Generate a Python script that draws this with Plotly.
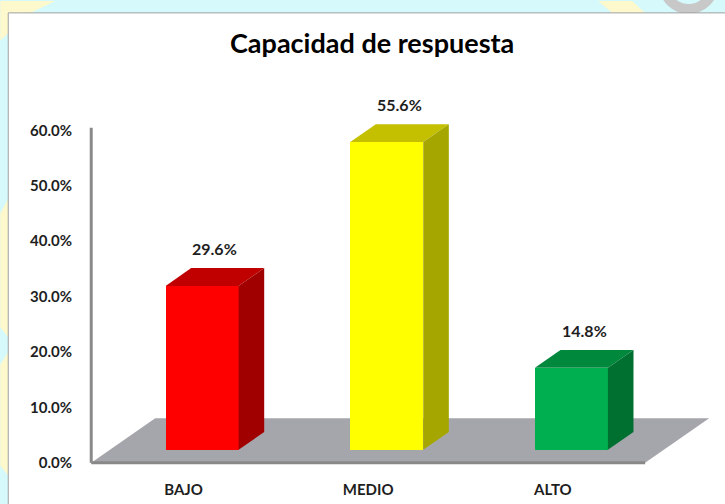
import plotly.graph_objects as go

# ---------------- data ----------------
categories = ["BAJO", "MEDIO", "ALTO"]
values = [29.6, 55.6, 14.8]
value_labels = ["29.6%", "55.6%", "14.8%"]
front_colors = ["#ff0000", "#ffff00", "#00b050"]
top_colors = ["#c00000", "#c4c000", "#00883c"]
side_colors = ["#a00000", "#a6a600", "#007030"]
y_ticks = [0, 10, 20, 30, 40, 50, 60]
y_tick_labels = ["0.0%", "10.0%", "20.0%", "30.0%", "40.0%", "50.0%", "60.0%"]
title_text = "Capacidad de respuesta"

# ---------------- geometry / style ----------------
W, H = 725, 504
PX_X = 184.67          # pixels per category unit
PX_Y = 5.6             # pixels per percent
X_LO, X_HI = -0.55, 2.9
Y_LO, Y_HI = -0.6, 67.5
AXIS_X_PX = 91.0       # pixel where x=-0.5
ZERO_Y_PX = 467.0      # pixel where y=0
L = AXIS_X_PX - (-0.5 - X_LO) * PX_X
PW = (X_HI - X_LO) * PX_X
R = W - L - PW
T = ZERO_Y_PX - Y_HI * PX_Y
B = H - ZERO_Y_PX - (0 - Y_LO) * PX_Y
PH = H - T - B

DEPTH_X = 64 / PX_X    # floor depth vector (x units)
DEPTH_Y = 45 / PX_Y    # floor depth vector (percent units)
F0, F1 = 0.29, 0.69    # bar front / back position within floor depth
BAR_W = 73 / PX_X
FONT = "Lato"
TXT = "#1e1e1e"


def px(xp):
    return (xp - L) / PW


def py(yp):
    return (H - B - yp) / PH


fig = go.Figure()

# front faces of bars
centers = [i + F0 * DEPTH_X for i in range(len(categories))]
base = F0 * DEPTH_Y
fig.add_trace(go.Bar(
    x=centers, y=values, base=[base] * len(values), width=BAR_W,
    marker=dict(color=front_colors, line=dict(width=0)),
    hoverinfo="skip", showlegend=False))

ddx = (F1 - F0) * DEPTH_X
ddy = (F1 - F0) * DEPTH_Y
annotations = []
for i, v in enumerate(values):
    xl = centers[i] - BAR_W / 2
    xr = centers[i] + BAR_W / 2
    yb = base
    yt = base + v
    # top face
    fig.add_trace(go.Scatter(
        x=[xl, xr, xr + ddx, xl + ddx, xl], y=[yt, yt, yt + ddy, yt + ddy, yt],
        mode="lines", fill="toself", fillcolor=top_colors[i], line=dict(width=0),
        hoverinfo="skip", showlegend=False))
    # side face
    fig.add_trace(go.Scatter(
        x=[xr, xr + ddx, xr + ddx, xr, xr], y=[yb, yb + ddy, yt + ddy, yt, yb],
        mode="lines", fill="toself", fillcolor=side_colors[i], line=dict(width=0),
        hoverinfo="skip", showlegend=False))
    annotations.append(dict(
        x=centers[i] + ddx / 2, y=yt + ddy, xref="x", yref="y",
        text=value_labels[i], showarrow=False, yanchor="bottom", yshift=8,
        font=dict(family=FONT, size=16, color=TXT, weight="bold")))

annotations.append(dict(
    x=px(372), y=py(42), xref="paper", yref="paper", text=title_text,
    showarrow=False, xanchor="center", yanchor="middle",
    font=dict(family=FONT, size=27, color="#000000", weight="bold")))

shapes = []
# background decorations (outside the chart area)
yellow = "#fdf9cc"
for pts in [
    [(0, 0), (55, 0), (30, 12), (0, 40)],
    [(0, 215), (8, 200), (8, 340), (0, 330)],
    [(0, 368), (8, 355), (8, 480), (0, 470)],
    [(598, 0), (632, 0), (645, 12), (612, 12)],
]:
    path = "M " + " L ".join(f"{px(a)},{py(b)}" for a, b in pts) + " Z"
    shapes.append(dict(type="path", xref="paper", yref="paper", path=path,
                       fillcolor=yellow, line=dict(width=0), layer="below"))
shapes.append(dict(type="circle", xref="paper", yref="paper",
                   x0=px(664), x1=px(713), y0=py(8), y1=py(-40),
                   line=dict(color="#c8c8c8", width=10), fillcolor="rgba(0,0,0,0)",
                   layer="below"))
# white chart area with border
shapes.append(dict(type="rect", xref="paper", yref="paper",
                   x0=px(8), x1=px(740), y0=py(12), y1=py(520),
                   fillcolor="#ffffff", line=dict(color="#a0a0a0", width=1),
                   layer="below"))
# floor
fx = [-0.5, 2.5, 2.5 + DEPTH_X, -0.5 + DEPTH_X]
fy = [0, 0, DEPTH_Y, DEPTH_Y]
floor_path = "M " + " L ".join(f"{a},{b}" for a, b in zip(fx, fy)) + " Z"
shapes.append(dict(type="path", xref="x", yref="y", path=floor_path,
                   fillcolor="#a5a6ab", line=dict(width=0), layer="below"))
# floor front edge and vertical axis line
shapes.append(dict(type="line", xref="x", yref="y", x0=-0.5, x1=2.5, y0=0, y1=0,
                   line=dict(color="#888888", width=3), layer="below"))
shapes.append(dict(type="line", xref="x", yref="y", x0=-0.5, x1=-0.5,
                   y0=0, y1=y_ticks[-1] + 0.5,
                   line=dict(color="#8a8a8a", width=3), layer="below"))

fig.update_layout(
    width=W, height=H,
    margin=dict(l=L, r=R, t=T, b=B, pad=0),
    paper_bgcolor="#d6fafc", plot_bgcolor="rgba(0,0,0,0)",
    showlegend=False, bargap=0,
    shapes=shapes, annotations=annotations,
    xaxis=dict(range=[X_LO, X_HI], tickvals=[0, 1, 2], ticktext=categories,
               showgrid=False, zeroline=False, showline=False,
               ticks="outside", ticklen=10, tickcolor="rgba(0,0,0,0)",
               tickfont=dict(family=FONT, size=15, color=TXT, weight="bold"),
               fixedrange=True),
    yaxis=dict(range=[Y_LO, Y_HI], tickvals=y_ticks, ticktext=y_tick_labels,
               showgrid=False, zeroline=False, showline=False,
               ticks="outside", ticklen=6, tickcolor="rgba(0,0,0,0)",
               tickfont=dict(family=FONT, size=15, color=TXT, weight="bold"),
               fixedrange=True),
)

fig.write_html(
    "out.html",
    config={"displayModeBar": False},
    post_script="document.body.style.margin='0';document.body.style.padding='0';"
                "document.documentElement.style.overflow='hidden';",
)
